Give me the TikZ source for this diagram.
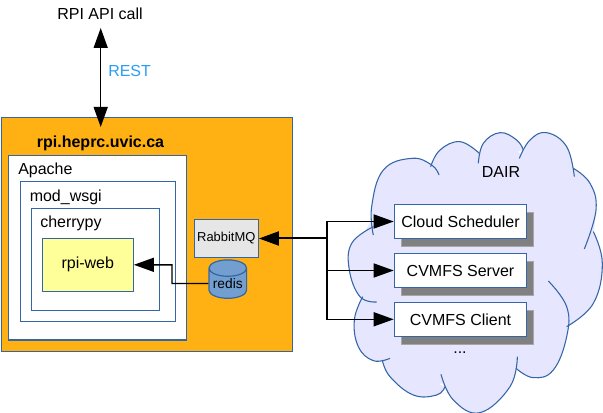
\documentclass[tikz,border=0pt]{standalone}
\usepackage{fontspec}
\setmainfont{Liberation Sans}
\usetikzlibrary{arrows.meta,shapes.geometric}
\definecolor{edgeblue}{HTML}{3465A4}
\definecolor{hostorange}{HTML}{FFB012}
\definecolor{webyellow}{HTML}{FFFF99}
\definecolor{mqgrey}{HTML}{E6E6E6}
\definecolor{redisblue}{HTML}{729FCF}
\definecolor{cloudfill}{HTML}{E6E6FF}
\definecolor{shadowgrey}{HTML}{808080}
\definecolor{restblue}{HTML}{2A9DF4}
\tikzset{
  panel/.style={draw=edgeblue,line width=0.9pt,fill=white,inner sep=0pt},
  svcbox/.style={panel,minimum width=99.3pt,minimum height=25.4pt,font=\fontsize{12}{14}\selectfont},
  svcshadow/.style={fill=shadowgrey,draw=shadowgrey!70,line width=0.6pt,inner sep=0pt,minimum width=99.3pt,minimum height=25.4pt},
  txt/.style={inner sep=0pt,font=\fontsize{12}{14}\selectfont},
  link/.style={line width=1.1pt,black},
  tip/.style={link,-{Triangle[length=15pt,width=10.5pt]}},
  lobe/.style={draw=edgeblue,line width=0.8pt},
}
\newcommand{\lobefill}[1]{\fill[cloudfill] plot[smooth,tension=0.7] coordinates {#1} -- cycle;}
\newcommand{\lobeline}[1]{\draw[lobe] plot[smooth,tension=0.7] coordinates {#1};}
\newcommand{\alllobes}[1]{%
  #1{(100,345)(95,260)(130,150)(215,115)(275,135)(297,165)}
  #1{(272,140)(300,90)(360,65)(418,100)}
  #1{(415,130)(430,70)(480,38)(530,60)(550,90)}
  #1{(538,115)(570,60)(620,38)(680,80)(703,170)}
  #1{(700,145)(750,190)(768,270)(733,387)}
  #1{(760,335)(787,430)(760,550)(680,620)}
  #1{(625,483)(680,560)(680,650)(640,750)(580,773)(528,745)}
  #1{(532,710)(510,800)(420,878)(340,840)(303,763)}
  #1{(315,800)(290,825)(220,825)(150,770)(127,720)}
  #1{(150,715)(100,722)(55,680)(43,600)(68,530)}
  #1{(110,546)(60,530)(28,450)(35,370)(100,320)}
}
\begin{document}
\begin{tikzpicture}[x=0.75pt,y=-0.75pt]
\useasboundingbox (0,0) rectangle (603,413);
% host
\node[panel,fill=hostorange,minimum width=218.3pt,minimum height=175.5pt] (host) at (147.2,234.7) {};
\node[panel,minimum width=133.5pt,minimum height=138.2pt] (apache) at (97.3,247.8) {};
\node[panel,minimum width=116.2pt,minimum height=105pt] (wsgi) at (97.8,251.3) {};
\node[panel,minimum width=96pt,minimum height=76.5pt] (cherry) at (95.3,259.3) {};
\node[panel,fill=webyellow,minimum width=68.2pt,minimum height=39.8pt,font=\fontsize{12}{14}\selectfont] (web) at (87.8,264.8) {\raisebox{-1.3pt}{rpi-web}};
\node[panel,fill=mqgrey,minimum width=48pt,minimum height=28.2pt,font=\fontsize{9.7}{11}\selectfont] (mq) at (226.3,238.5) {\raisebox{-0.8pt}{RabbitMQ}};
\node[cylinder,shape border rotate=90,aspect=0.55,draw=edgeblue,line width=0.9pt,fill=redisblue,inner sep=0pt,minimum width=28.2pt,minimum height=28.8pt,font=\fontsize{10.3}{12}\selectfont] (redis) at (227.8,283.5) {\raisebox{-1.3pt}{redis}};
\node[txt,font=\bfseries\fontsize{12}{14}\selectfont] (hostlabel) at (100.5,143) {rpi.heprc.uvic.ca};
\node[txt,anchor=west] (apachelabel) at (18,170) {Apache};
\node[txt,anchor=west] (wsgilabel) at (29.5,197) {mod\_wsgi};
\node[txt,anchor=west] (cherrylabel) at (40,223.5) {cherrypy};
% cloud
\begin{scope}[shift={(340,120)},x=0.25pt,y=-0.25pt]
\fill[cloudfill] (95,300)--(130,150)--(275,135)--(360,90)--(418,100)--(480,60)--(540,100)--(620,60)--(703,150)--(768,270)--(762,335)--(787,430)--(680,620)--(640,750)--(530,745)--(420,860)--(305,790)--(220,810)--(130,720)--(55,680)--(65,530)--(35,400)--cycle;
\alllobes{\lobefill}
\alllobes{\lobeline}
\end{scope}
\node[txt] (dair) at (501,172) {DAIR};
\node[svcshadow] (s1) at (467.5,229.5) {};
\node[svcshadow] (s2) at (467.5,278.5) {};
\node[svcshadow] (s3) at (467.5,327.3) {};
\node[svcbox] (sched) at (460.5,221.5) {Cloud Scheduler};
\node[svcbox] (server) at (460.5,270.5) {CVMFS Server};
\node[svcbox] (client) at (460.5,319.3) {CVMFS Client};
\node[txt] (more) at (460,353) {...};
% top
\node[txt] (api) at (100,14) {RPI API call};
\node[txt,text=restblue,anchor=west] (rest) at (108,71) {REST};
\coordinate (apitip) at (100.7,28);
\coordinate (hosttip) at (100.7,127);
\coordinate (junction) at (327,238.5);
\coordinate (bendb) at (172,283.5);
\draw[link,{Triangle[length=15pt,width=10.5pt]}-{Triangle[length=15pt,width=10.5pt]}] (apitip) -- (hosttip);
\draw[tip,line width=1.5pt] (junction) -- (mq.east);
\draw[tip] (junction) |- (sched.west);
\draw[tip] (junction) |- (server.west);
\draw[tip] (junction) |- (client.west);
\draw[tip] (redis.west) -- (bendb) |- (web.east);
\end{tikzpicture}
\end{document}
